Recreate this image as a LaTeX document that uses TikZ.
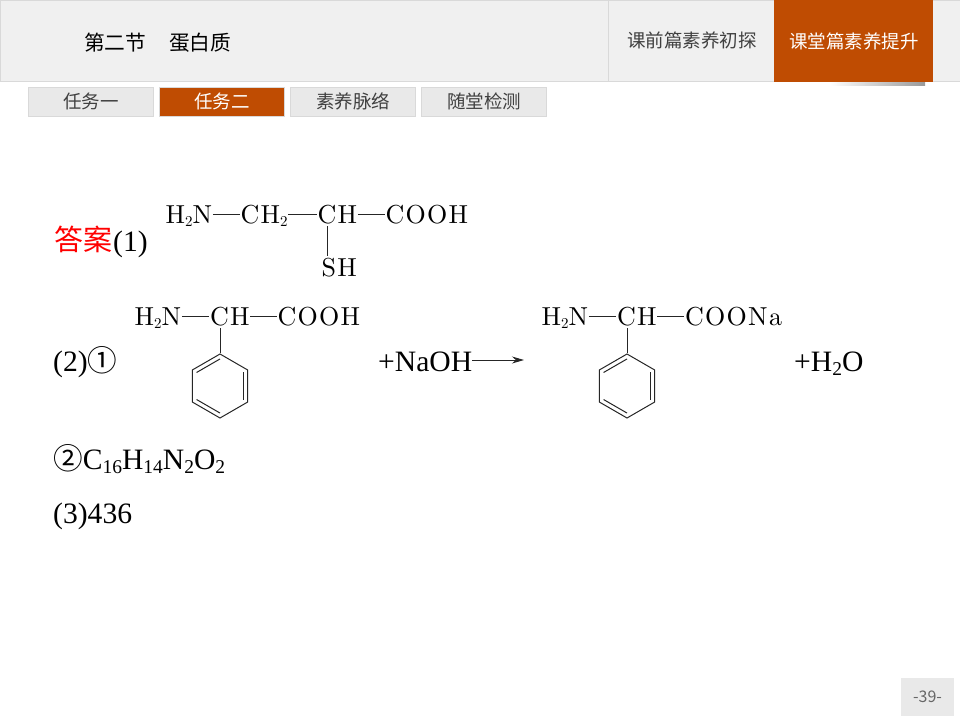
\documentclass[tikz,border=0pt]{standalone}
\usepackage{fontspec}
\setmainfont{Liberation Serif}
\newfontfamily\cjk{Noto Sans CJK SC}
\newfontfamily\chemfont{lmroman10-regular}[Extension=.otf, LetterSpace=5]
\usetikzlibrary{positioning,calc,shapes.geometric,arrows.meta}
\definecolor{rust}{HTML}{BF4C02}
\definecolor{panel}{HTML}{F0F0F0}
\definecolor{tabgray}{HTML}{E9E9E9}
\definecolor{edgegray}{HTML}{D9D9D9}
\definecolor{inkgray}{HTML}{404040}
\newcommand{\lowsub}[1]{\raisebox{-3pt}{\fontsize{15}{15}\selectfont #1}}
\newcommand{\lowbody}[1]{\raisebox{-4pt}{\fontsize{19.5}{19.5}\selectfont #1}}
\newcommand{\inner}[1]{%
	\foreach \i/\j in {1/2,3/4,5/6}
		\draw[bond] ($(#1.center)!.83!(#1.corner \i)$) -- ($(#1.center)!.83!(#1.corner \j)$);}

\begin{document}
\begin{tikzpicture}[x=1pt, y=-1pt, >=stealth, node distance=27pt]
	\tikzset{
		tabbox/.style={draw=edgegray, fill=tabgray, text=inkgray, outer sep=0pt, inner sep=0pt, minimum width=125pt, minimum height=28.5pt, font=\cjk\fontsize{18.5}{18.5}\selectfont},
		onbox/.style={tabbox, fill=rust, text=white},
		headtext/.style={inner sep=0pt, font=\cjk\fontsize{18.5}{18.5}\selectfont},
		chem/.style={anchor=base west, inner xsep=0.5pt, inner ysep=3pt, text height=17pt, text depth=0pt, font=\chemfont\fontsize{26}{26}\selectfont},
		body/.style={anchor=base west, inner sep=0pt, font=\fontsize{29.6}{29.6}\selectfont},
		bond/.style={draw=black!85, line width=1pt},
		ring/.style={regular polygon, regular polygon sides=6, shape border rotate=30, minimum size=64pt, inner sep=0pt, bond},
	}
	\useasboundingbox (0,0) rectangle (960,720);

	% header
	\node[draw=edgegray, fill=panel, outer sep=0pt, minimum width=960pt, minimum height=81pt, anchor=north west] (head) at (0,0) {};
	\draw[edgegray] (608,0) -- (608,81);
	\shade[left color=white, right color=black!40] (830,81) rectangle (925,85);
	\node[fill=rust, outer sep=0pt, minimum width=159pt, minimum height=81.5pt, anchor=north west] (now) at (774,0) {};
	\node[anchor=west, inner sep=0pt, font=\cjk\fontsize{20.7}{20.7}\selectfont] (title) at (84,43) {第二节\hspace{23pt}蛋白质};
	\node[headtext, text=inkgray] (before) at (692,40) {课前篇素养初探};
	\node[headtext, text=white] (during) at (854,41) {课堂篇素养提升};

	% tabs
	\node[tabbox] (taba) at (91,101.5) {任务一};
	\node[onbox, right=6pt of taba] (tabb) {任务二};
	\node[tabbox, right=6pt of tabb] (tabc) {素养脉络};
	\node[tabbox, right=6pt of tabc] (tabd) {随堂检测};

	% (1)
	\node[body, text=red, font=\cjk\fontsize{29}{29}\selectfont] (ans) at (54,250) {答案};
	\node[body] (one) at (113,251) {(1)};
	\node[chem] (amine) at (165,223) {H\lowsub{2}N};
	\node[chem, right=27pt of amine] (ctwo) {CH\lowsub{2}};
	\node[chem, right=28.5pt of ctwo] (ch) {CH};
	\node[chem, right=27pt of ch] (acid) {COOH};
	\node[chem] (sh) at (321,276) {SH};
	\coordinate (drop) at (327,0);
	\draw[bond] (amine) -- (ctwo);
	\draw[bond] (ctwo) -- (ch);
	\draw[bond] (ch) -- (acid);
	\draw[bond] (ch.south -| drop) -- (sh.north -| drop);

	% (2)
	\node[body] (two) at (53,371) {(2)\cjk ①};
	\node[chem] (amineb) at (134,325) {H\lowsub{2}N};
	\node[chem, right=27.5pt of amineb] (chb) {CH};
	\node[chem, right=26.5pt of chb] (acidb) {COOH};
	\node[ring] (ringb) at (220,386) {};
	\inner{ringb}
	\draw[bond] (amineb) -- (chb);
	\draw[bond] (chb) -- (acidb);
	\draw[bond] (ringb.corner 1) -- (ringb.corner 1 |- chb.south);

	\node[body] (naoh) at (378,371) {+NaOH};
	\node[chem] (aminec) at (541,325) {H\lowsub{2}N};
	\node[chem, right=27.5pt of aminec] (chc) {CH};
	\node[chem, right=27pt of chc] (salt) {COONa};
	\node[ring] (ringc) at (627,386) {};
	\inner{ringc}
	\draw[bond] (aminec) -- (chc);
	\draw[bond] (chc) -- (salt);
	\draw[bond] (ringc.corner 1) -- (ringc.corner 1 |- chc.south);
	\draw[bond, -{Stealth[length=12pt, width=7pt]}] (naoh.east |- 0,360) -- (524,360);
	\node[body] (water) at (794,371) {+H\lowbody{2}O};

	% rest
	\node[body] (formula) at (53,469) {{\cjk ②}C\lowbody{16}H\lowbody{14}N\lowbody{2}O\lowbody{2}};
	\node[body] (three) at (53,523) {(3)436};

	% page number
	\node[fill=tabgray, text=black!60, minimum width=53pt, minimum height=38pt, inner sep=0pt, font=\cjk\fontsize{16}{16}\selectfont] (page) at (927.5,697) {-39-};
\end{tikzpicture}
\end{document}
